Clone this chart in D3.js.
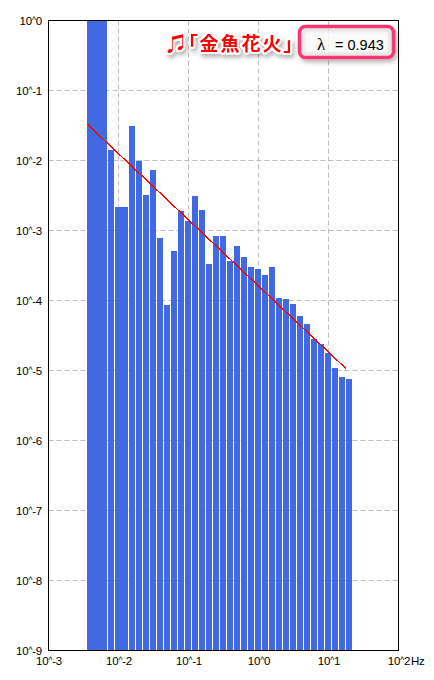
<!DOCTYPE html>
<html>
<head>
<meta charset="utf-8">
<script src="https://cdn.jsdelivr.net/npm/d3@7"></script>
<style>
  html, body { margin: 0; padding: 0; background: #fff; }
  svg { display: block; }
  text { font-family: "Liberation Sans", sans-serif; font-size: 11.5px; fill: #000; }
</style>
</head>
<body>
<div id="d3-container"></div>
<script>
// bin edges as log10(Hz), first bar spans three bins and third bar two
const binFrom = [-2.443, -2.143, -2.043, -1.843, -1.743, -1.643, -1.543, -1.443, -1.343, -1.243, -1.143, -1.043, -0.943, -0.843, -0.743, -0.643, -0.543, -0.443, -0.343, -0.243, -0.143, -0.043, 0.057, 0.157, 0.257, 0.357, 0.457, 0.557, 0.657, 0.757, 0.857, 0.957, 1.057, 1.157, 1.257];
const binTo = [-2.157, -2.057, -1.857, -1.757, -1.657, -1.557, -1.457, -1.357, -1.257, -1.157, -1.057, -0.957, -0.857, -0.757, -0.657, -0.557, -0.457, -0.357, -0.257, -0.157, -0.057, 0.043, 0.143, 0.243, 0.343, 0.443, 0.543, 0.643, 0.743, 0.843, 0.943, 1.043, 1.143, 1.243, 1.343];
const power = [1, 1.39e-2, 2.13e-3, 3.06e-2, 9.68e-3, 3.16e-3, 7.2e-3, 7.69e-4, 8.48e-5, 5.01e-4, 1.87e-3, 1.34e-3, 3.06e-3, 1.93e-3, 3.27e-4, 8.2e-4, 8.2e-4, 3.61e-4, 5.9e-4, 4.11e-4, 2.96e-4, 2.77e-4, 2.28e-4, 2.96e-4, 1.07e-4, 1.03e-4, 8.77e-5, 5.9e-5, 4.54e-5, 2.77e-5, 2.35e-5, 1.75e-5, 1.07e-5, 7.94e-6, 7.43e-6];

const fitFreq = [0.00361, 17.9];
const fitPower = [3.27e-2, 1.057e-5];

const xTicks = [1e-3, 1e-2, 1e-1, 1, 10, 100];
const xTickLabels = ['10^-3', '10^-2', '10^-1', '10^0', '10^1', '10^2'];
const yTicks = [1, 1e-1, 1e-2, 1e-3, 1e-4, 1e-5, 1e-6, 1e-7, 1e-8, 1e-9];
const yTickLabels = ['10^0', '10^-1', '10^-2', '10^-3', '10^-4', '10^-5', '10^-6', '10^-7', '10^-8', '10^-9'];

const width = 434;
const height = 680;
const margin = { top: 20, bottom: 30, left: 48, right: 36 };

const svg = d3.select('#d3-container')
  .append('svg')
  .attr('width', width)
  .attr('height', height);

const x = d3.scaleLog()
  .domain([1e-3, 100])
  .range([margin.left, width - margin.right]);

const y = d3.scaleLog()
  .domain([1e-9, 1])
  .range([height - margin.bottom, margin.top]);

const defs = svg.append('defs');
defs.append('filter')
  .attr('id', 'shadow')
  .attr('x', '-20%').attr('y', '-40%')
  .attr('width', '140%').attr('height', '180%')
  .append('feDropShadow')
  .attr('dx', 2).attr('dy', 3)
  .attr('stdDeviation', 2)
  .attr('flood-color', '#000')
  .attr('flood-opacity', 0.3);
defs.append('filter')
  .attr('id', 'soft')
  .append('feGaussianBlur')
  .attr('stdDeviation', 1.5);

// grid
svg.append('g')
  .attr('transform', 'translate(0.5,0.5)')
  .selectAll('line.v')
  .data(xTicks.slice(1, -1))
  .join('line')
    .attr('x1', d => x(d)).attr('x2', d => x(d))
    .attr('y1', y(1)).attr('y2', y(1e-9))
    .attr('stroke', '#bdbdbd')
    .attr('stroke-dasharray', '5,3');

svg.append('g')
  .attr('transform', 'translate(0.5,0.5)')
  .selectAll('line.h')
  .data(yTicks.slice(1, -1))
  .join('line')
    .attr('x1', x(1e-3)).attr('x2', x(100))
    .attr('y1', d => y(d)).attr('y2', d => y(d))
    .attr('stroke', '#bdbdbd')
    .attr('stroke-dasharray', '5,3');

// bars
svg.append('g')
  .attr('fill', '#4169e1')
  .attr('shape-rendering', 'crispEdges')
  .selectAll('rect')
  .data(power)
  .join('rect')
    .attr('x', (d, i) => Math.round(x(10 ** binFrom[i])))
    .attr('y', d => Math.round(y(d)))
    .attr('width', (d, i) => Math.round(x(10 ** binTo[i])) - Math.round(x(10 ** binFrom[i])))
    .attr('height', d => y(1e-9) - Math.round(y(d)));

// fit line
svg.append('path')
  .datum(fitFreq.map((f, i) => [f, fitPower[i]]))
  .attr('fill', 'none')
  .attr('stroke', '#f00')
  .attr('stroke-width', 1.3)
  .attr('shape-rendering', 'crispEdges')
  .attr('d', d3.line().x(d => x(d[0])).y(d => y(d[1])));

// frame
svg.append('rect')
  .attr('x', margin.left + 0.5)
  .attr('y', margin.top + 0.5)
  .attr('width', width - margin.left - margin.right)
  .attr('height', height - margin.top - margin.bottom)
  .attr('fill', 'none')
  .attr('stroke', '#000')
  .attr('shape-rendering', 'crispEdges');

// axes
const xAxis = svg.append('g')
  .attr('transform', `translate(0.5,${height - margin.bottom})`)
  .call(d3.axisBottom(x).tickValues(xTicks).tickSize(0).tickPadding(7).tickFormat((d, i) => xTickLabels[i]));
xAxis.select('.domain').remove();

const yAxis = svg.append('g')
  .attr('transform', `translate(${margin.left},0.5)`)
  .call(d3.axisLeft(y).tickValues(yTicks).tickSize(0).tickPadding(6).tickFormat((d, i) => yTickLabels[i]));
yAxis.select('.domain').remove();

// the caret is narrow in the original, so set it smaller and raise it
svg.selectAll('.tick text')
  .style('font-family', '"Liberation Sans", sans-serif')
  .style('font-size', '11.5px')
  .style('letter-spacing', '-0.2px')
  .each(function (d, i, nodes) {
    const label = d3.select(this);
    const parts = label.text().split('^');
    label.text(null);
    label.append('tspan').text(parts[0]);
    label.append('tspan').attr('dy', -2).style('font-size', '8.5px').text('^');
    label.append('tspan').attr('dy', 2).text(parts[1]);
  });

svg.append('text')
  .attr('x', 411)
  .attr('y', 665)
  .style('letter-spacing', '-0.3px')
  .text('Hz');

// annotations
svg.append('text')
  .attr('x', 167)
  .attr('y', 51)
  .attr('filter', 'url(#shadow)')
  .attr('paint-order', 'stroke')
  .attr('stroke', '#fff')
  .attr('stroke-width', 4)
  .attr('stroke-linejoin', 'round')
  .style('fill', '#f00')
  .style('font-family', '"Noto Sans CJK JP", "DejaVu Sans"')
  .style('font-size', '19px')
  .style('font-weight', 700)
  .style('font-feature-settings', '"palt" 1')
  .style('letter-spacing', '2px')
  .text('♫「金魚花火」');

svg.append('rect')
  .attr('x', 299.5)
  .attr('y', 26.5)
  .attr('width', 94)
  .attr('height', 31)
  .attr('rx', 6)
  .attr('fill', '#fff')
  .attr('fill-opacity', 0.8)
  .attr('stroke', '#ff3370')
  .attr('stroke-width', 3.5)
  .attr('filter', 'url(#shadow)');

svg.append('rect')
  .attr('x', 302.5)
  .attr('y', 29.5)
  .attr('width', 88)
  .attr('height', 25)
  .attr('rx', 4)
  .attr('fill', 'none')
  .attr('stroke', '#999')
  .attr('stroke-opacity', 0.45)
  .attr('stroke-width', 2)
  .attr('filter', 'url(#soft)');

svg.append('text')
  .attr('x', 317)
  .attr('y', 49.5)
  .style('font-family', '"Liberation Serif"')
  .style('font-size', '17px')
  .text('λ');

svg.append('text')
  .attr('x', 335)
  .attr('y', 49.5)
  .style('font-size', '14.5px')
  .text('= 0.943');
</script>
</body>
</html>
